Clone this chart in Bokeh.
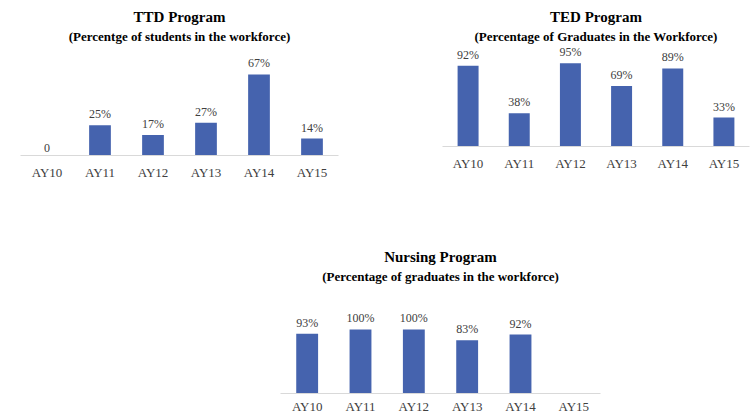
from bokeh.plotting import figure
from bokeh.models import ColumnDataSource, LabelSet, Title, Range1d, FactorRange
from bokeh.layouts import column, row
from bokeh.embed import file_html
from bokeh.resources import INLINE

categories = ["AY10", "AY11", "AY12", "AY13", "AY14", "AY15"]

ttd_values = [0, 25, 17, 27, 67, 14]
ted_values = [92, 38, 95, 69, 89, 33]
nursing_values = [93, 100, 100, 83, 92, None]

ttd_title = "TTD Program"
ttd_subtitle = "(Percentge of students in the workforce)"
ted_title = "TED Program"
ted_subtitle = "(Percentage of Graduates in the Workforce)"
nursing_title = "Nursing Program"
nursing_subtitle = "(Percentage of graduates in the workforce)"

FONT = "'Liberation Serif', serif"
BAR = "#4563ae"
TXT = "#404040"


def make_label(v, zero_plain):
    if v is None:
        return ""
    if v == 0 and zero_plain:
        return "0"
    return f"{v}%"


def chart(title, subtitle, values, width, height, y_end,
          left, right, top, bottom, standoff=9, zero_plain=False):
    vals = [float("nan") if v is None else v for v in values]
    src = ColumnDataSource(dict(
        cat=categories,
        val=vals,
        lab_y=[0 if v is None else v for v in values],
        lab=[make_label(v, zero_plain) for v in values],
    ))
    p = figure(x_range=FactorRange(*categories, range_padding=0),
               y_range=Range1d(0, y_end),
               width=width, height=height, output_backend="svg",
               toolbar_location=None, min_border_left=left,
               min_border_right=right, min_border_top=top,
               min_border_bottom=bottom)
    p.vbar(x="cat", top="val", bottom=0, width=0.41, source=src,
           fill_color=BAR, line_color=None)
    labels = LabelSet(x="cat", y="lab_y", text="lab", source=src,
                      text_align="center", text_baseline="bottom",
                      y_offset=4, text_font=FONT, text_font_size="12px",
                      text_color=TXT)
    p.add_layout(labels)
    p.add_layout(Title(text=subtitle, align="center", text_font=FONT,
                       text_font_size="13px", text_font_style="bold",
                       text_color="#000000", standoff=2), "above")
    p.add_layout(Title(text=title, align="center", text_font=FONT,
                       text_font_size="15px", text_font_style="bold",
                       text_color="#000000", standoff=2), "above")
    p.yaxis.visible = False
    p.xgrid.visible = False
    p.ygrid.visible = False
    p.outline_line_color = None
    ax = p.xaxis[0]
    ax.axis_line_color = "#d9d9d9"
    ax.major_tick_line_color = None
    ax.minor_tick_line_color = None
    ax.major_tick_out = 0
    ax.major_tick_in = 0
    ax.major_label_standoff = standoff
    ax.major_label_text_font = FONT
    ax.major_label_text_font_size = "13px"
    ax.major_label_text_color = TXT
    return p


p1 = chart(ttd_title, ttd_subtitle, ttd_values, 376, 200, 91.7,
           20, 38, 44, 45, zero_plain=True)
p2 = chart(ted_title, ted_subtitle, ted_values, 376, 191, 116.3,
           66, 3, 44, 45)
p3 = chart(nursing_title, nursing_subtitle, nursing_values, 752, 216, 170,
           280, 152, 84, 0, standoff=5)

layout = column(row(p1, p2), p3)

open("out.html", "w").write(file_html(layout, INLINE))
